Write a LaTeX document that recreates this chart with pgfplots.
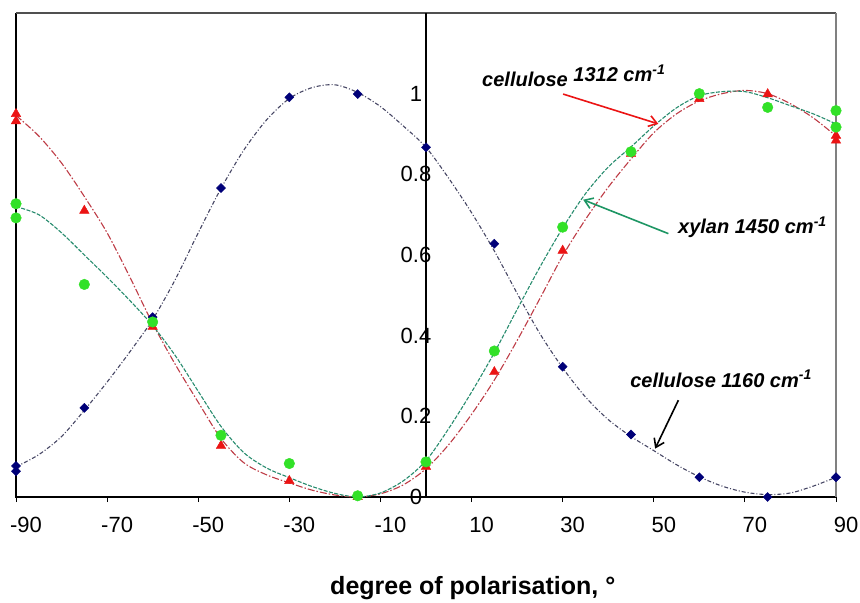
\documentclass[border=0pt]{standalone}
\usepackage{fontspec}
\setmainfont{Liberation Sans}
\usepackage{pgfplots}
\pgfplotsset{compat=1.18}
\usetikzlibrary{arrows.meta}
\definecolor{navy}{RGB}{0,0,120}
\definecolor{mred}{RGB}{235,20,20}
\definecolor{mgreen}{RGB}{50,225,40}
\definecolor{cblue}{RGB}{70,70,100}
\definecolor{cred}{RGB}{190,60,70}
\definecolor{cgreen}{RGB}{40,140,110}
\definecolor{agreen}{RGB}{30,150,100}
\definecolor{topgray}{RGB}{80,80,80}
\begin{document}
\begin{tikzpicture}
\begin{axis}[
  scale only axis, width=820pt, height=484pt,
  xmin=-90, xmax=90, ymin=0, ymax=1.2,
  clip=false,
  axis line style={draw=none},
  xtick={-90,-70,-50,-30,-10,10,30,50,70,90},
  ytick={0,0.2,0.4,0.6,0.8,1},
  yticklabels={0,0.2,0.4,0.6,0.8,1},
  xtick pos=left, ytick pos=left,
  tick align=outside, major tick length=5pt,
  xtick style={black, line width=1pt},
  ytick style={draw=none},
  /pgf/number format/assume math mode=true,
  tick label style={font=\fontsize{22}{22}\selectfont},
  yticklabel style={anchor=center, inner sep=0pt, xshift=405pt},
  xticklabel style={anchor=north, inner sep=0pt, xshift=10pt, yshift=-15pt},
  xlabel={degree of polarisation, °},
  xlabel style={at={(rel axis cs:0.557,0)}, anchor=base, yshift=-97pt, font=\bfseries\fontsize{25}{25}\selectfont},
]
\draw[black, line width=1.6pt] (rel axis cs:0,1) -- (rel axis cs:0,0) -- (rel axis cs:1,0);
\draw[topgray, line width=1.2pt] (rel axis cs:0,1) -- (rel axis cs:1,1);
\draw[gray, line width=1.2pt] (rel axis cs:1,1) -- (rel axis cs:1,0);
\draw[black, line width=1.3pt] (axis cs:0,0) -- (axis cs:0,1.2);

% fitted curves
\addplot[cblue, line width=1.1pt, smooth, dash pattern=on 4pt off 2pt on 1pt off 2pt] coordinates {
(-90,0.075) (-85,0.105) (-80,0.150) (-75,0.215) (-70,0.285) (-65,0.360) (-60,0.440)
(-55,0.540) (-50,0.655) (-45,0.765) (-40,0.860) (-35,0.935) (-30,0.988) (-25,1.015)
(-20,1.022) (-15,1.003) (-10,0.968) (-5,0.920) (0,0.867) (5,0.790) (10,0.705)
(15,0.610) (20,0.505) (25,0.405) (30,0.320) (35,0.248) (40,0.192) (45,0.150)
(50,0.115) (55,0.080) (60,0.050) (65,0.027) (70,0.012) (75,0.006) (80,0.010)
(85,0.027) (90,0.049)};
\addplot[cred, line width=1.1pt, smooth, dash pattern=on 7pt off 2pt on 1.5pt off 2pt] coordinates {
(-90,0.946) (-85,0.895) (-80,0.828) (-75,0.745) (-70,0.655) (-65,0.545) (-60,0.430)
(-55,0.328) (-50,0.235) (-45,0.145) (-40,0.085) (-35,0.055) (-30,0.035) (-25,0.017)
(-20,0.005) (-15,0.000) (-10,0.008) (-5,0.030) (0,0.070) (5,0.130) (10,0.205)
(15,0.290) (20,0.388) (25,0.492) (30,0.598) (35,0.688) (40,0.768) (45,0.838)
(50,0.903) (55,0.950) (60,0.982) (65,1.000) (70,1.008) (75,1.000) (80,0.975)
(85,0.940) (90,0.895)};
\addplot[cgreen, line width=1.1pt, smooth, dash pattern=on 4pt off 1.5pt] coordinates {
(-90,0.720) (-85,0.700) (-80,0.655) (-75,0.600) (-70,0.545) (-65,0.487) (-60,0.425)
(-55,0.350) (-50,0.262) (-45,0.175) (-40,0.110) (-35,0.072) (-30,0.048) (-25,0.026)
(-20,0.009) (-15,0.000) (-10,0.010) (-5,0.040) (0,0.090) (5,0.170) (10,0.260)
(15,0.358) (20,0.465) (25,0.570) (30,0.667) (35,0.752) (40,0.818) (45,0.868)
(50,0.920) (55,0.965) (60,0.995) (65,1.005) (70,1.005) (75,0.990) (80,0.970)
(85,0.950) (90,0.925)};

% measured points
\addplot[only marks, mark=square*, mark size=3.2pt, mark options={rotate=45, navy, fill=navy}] coordinates {
(-90,0.077) (-90,0.064) (-75,0.221) (-60,0.446) (-45,0.766) (-30,0.991) (-15,0.999)
(0,0.867) (15,0.628) (30,0.323) (45,0.155) (60,0.049) (75,0.000) (90,0.049)};
\addplot[only marks, mark=triangle*, mark size=5.5pt, mark options={mred, fill=mred}] coordinates {
(-90,0.950) (-90,0.932) (-75,0.710) (-60,0.422) (-45,0.127) (-30,0.040) (-15,0.000)
(0,0.075) (15,0.310) (30,0.611) (45,0.851) (60,0.987) (75,0.999) (90,0.896) (90,0.884)};
\addplot[only marks, mark=*, mark size=5.3pt, mark options={mgreen, fill=mgreen}] coordinates {
(-90,0.727) (-90,0.692) (-75,0.527) (-60,0.434) (-45,0.153) (-30,0.083) (-15,0.003)
(0,0.087) (15,0.362) (30,0.669) (45,0.856) (60,1.000) (75,0.966) (90,0.958) (90,0.917)};

% annotations
\draw[mred, line width=1.6pt, -{Straight Barb[length=8pt,width=11pt]}] (axis cs:30.1,0.999) -- (axis cs:51.0,0.925);
\draw[agreen, line width=1.6pt, -{Straight Barb[length=8pt,width=11pt]}] (axis cs:53.2,0.653) -- (axis cs:34.5,0.737);
\draw[black, line width=1.6pt, -{Straight Barb[length=8pt,width=11pt]}] (axis cs:55.4,0.240) -- (axis cs:50.3,0.120);
\node[anchor=base west, inner sep=0pt, font=\bfseries\itshape\fontsize{20}{20}\selectfont] at (axis cs:12.3,1.017) {cellulose \raisebox{5pt}{1312 cm\textsuperscript{-1}}};
\node[anchor=base west, inner sep=0pt, font=\bfseries\itshape\fontsize{20}{20}\selectfont] at (axis cs:55.3,0.653) {xylan 1450 cm\textsuperscript{-1}};
\node[anchor=base west, inner sep=0pt, font=\bfseries\itshape\fontsize{20}{20}\selectfont] at (axis cs:44.8,0.272) {cellulose 1160 cm\textsuperscript{-1}};
\end{axis}
\path ([shift={(-16pt,-102pt)}]current axis.south west) rectangle ([shift={(24pt,13pt)}]current axis.north east);
\end{tikzpicture}
\end{document}
